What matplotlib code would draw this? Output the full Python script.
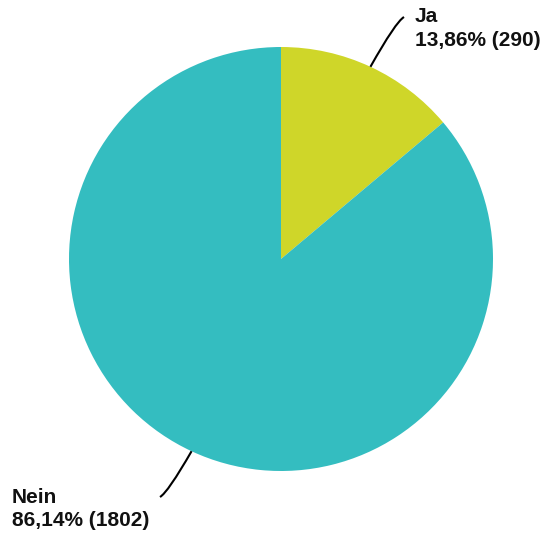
import numpy as np
import matplotlib.pyplot as plt
from matplotlib.path import Path
from matplotlib.patches import PathPatch

labels = ["Ja", "Nein"]
counts = [290, 1802]
colors = ["#cfd629", "#34bdc0"]

W, H = 543, 540
fig = plt.figure(figsize=(W / 100, H / 100), dpi=100)
ax = fig.add_axes([0, 0, 1, 1])

cx, cy, r = 281, H - 259, 212
ax.pie(counts, colors=colors, startangle=90, counterclock=False,
       center=(cx, cy), radius=r, frame=True,
       wedgeprops=dict(linewidth=0))
ax.set_xlim(0, W)
ax.set_ylim(0, H)
ax.set_aspect("equal")
ax.axis("off")

tot = sum(counts)
perc = [c / tot * 100 for c in counts]

# posizioni etichette (pixel, y dall'alto) e fine linea
lab_pos = [(415, 7), (12, 488)]
line_end = [(404, 17), (160, 497)]
cum = 0
for i in range(len(counts)):
    mid = (cum + perc[i] / 2) / 100 * 2 * np.pi
    cum += perc[i]
    x0 = cx + r * np.sin(mid)
    y0 = cy + r * np.cos(mid)
    x1, y1 = line_end[i][0], H - line_end[i][1]
    # curva: parte radiale, poi si piega verso l'etichetta
    ctrl = (x0 + 0.75 * (x1 - x0), y0 + 0.9 * (y1 - y0))
    p = Path([(x0, y0), ctrl, (x1, y1)], [Path.MOVETO, Path.CURVE3, Path.CURVE3])
    ax.add_patch(PathPatch(p, fc="none", ec="black", lw=1.5))
    testo = "{}\n{}% ({})".format(labels[i], "{:.2f}".format(perc[i]).replace(".", ","), counts[i])
    ax.text(lab_pos[i][0], H - lab_pos[i][1], testo, ha="left", va="top",
            fontsize=15, fontweight="bold", family="Liberation Sans",
            linespacing=1.3, color="#111111")

plt.savefig("out.png", dpi=100)
